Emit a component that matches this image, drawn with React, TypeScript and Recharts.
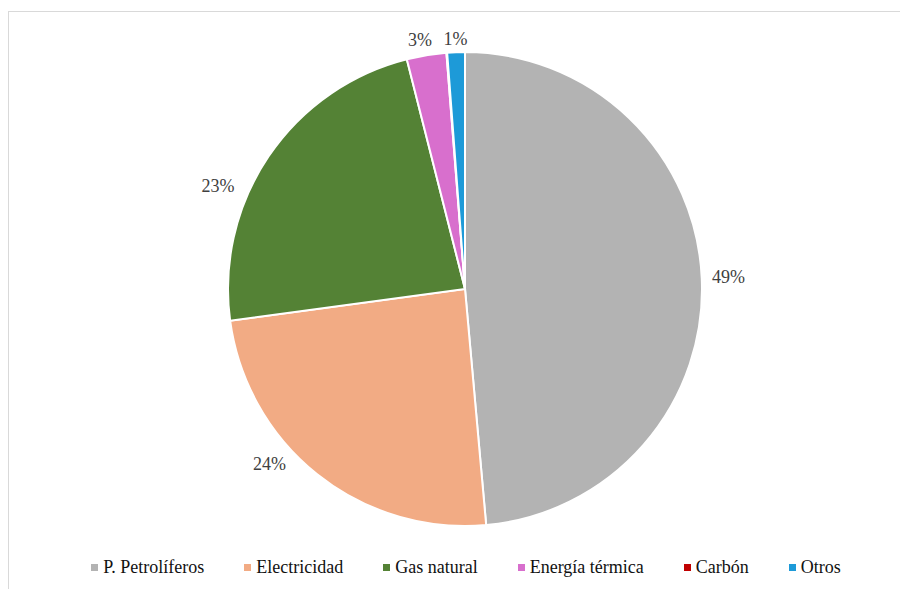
import { PieChart, Pie, Cell, Legend } from "recharts";

const categories = [
  "P. Petrolíferos",
  "Electricidad",
  "Gas natural",
  "Energía térmica",
  "Carbón",
  "Otros",
];
const shares = [48.6, 24.3, 23.2, 2.7, 0.05, 1.2];
const COLORS = ["#b3b3b3", "#f2ab84", "#548235", "#d86fcd", "#c00000", "#1d9ad8"];

const data = categories.map((name, i) => ({ name, value: shares[i] }));

const FONT = "'Liberation Serif', 'Times New Roman', serif";
const RAD = Math.PI / 180;

// label nudges (best-fit placement in the original)
const LABEL_NUDGE: Record<string, [number, number]> = {
  Electricidad: [-33, -29],
  "Gas natural": [-29, 44],
  "Energía térmica": [-4, 0],
};

const renderLabel = (props: any) => {
  const { cx, cy, midAngle, outerRadius, percent, name } = props;
  const pct = Math.round(percent * 100);
  if (pct < 1) return null;
  const text = `${pct}%`;
  const halfW = text.length * 6 + 0.5;
  const halfH = 5;
  const c = Math.cos(-midAngle * RAD);
  const s = Math.sin(-midAngle * RAD);
  const r = outerRadius + 8 + halfW * Math.abs(c) + halfH * Math.abs(s);
  const [nx, ny] = LABEL_NUDGE[name] || [0, 0];
  return (
    <text
      x={cx + r * c + nx}
      y={cy + r * s + ny}
      textAnchor="middle"
      dominantBaseline="central"
      fill="#404040"
      fontSize={18}
      style={{ fontFamily: FONT }}
    >
      {text}
    </text>
  );
};

const renderLegend = () => (
  <div
    style={{
      display: "flex",
      justifyContent: "center",
      alignItems: "center",
      fontFamily: FONT,
      fontSize: 18,
      color: "#111",
      paddingLeft: 14,
    }}
  >
    {categories.map((name, i) => (
      <div
        key={name}
        style={{ display: "flex", alignItems: "center", marginRight: i < categories.length - 1 ? 40 : 0 }}
      >
        <span
          style={{ width: 7, height: 7, background: COLORS[i], display: "inline-block", marginRight: 5 }}
        />
        <span>{name}</span>
      </div>
    ))}
  </div>
);

export default function App() {
  return (
    <div
      style={{
        marginTop: 3,
        width: 900,
        height: 578,
        borderTop: "1px solid #d9d9d9",
        borderLeft: "1px solid #d9d9d9",
        background: "#fff",
        fontFamily: FONT,
      }}
    >
      <PieChart
        width={900}
        height={578}
        margin={{ top: 0, right: 0, bottom: 0, left: 0 }}
        style={{ fontFamily: FONT }}
      >
        <Pie
          data={data}
          dataKey="value"
          cx={456}
          cy={277}
          outerRadius={237}
          startAngle={90}
          endAngle={-270}
          stroke="#ffffff"
          strokeWidth={2}
          label={renderLabel}
          labelLine={false}
          isAnimationActive={false}
        >
          {data.map((entry, index) => (
            <Cell key={`cell-${index}`} fill={COLORS[index]} />
          ))}
        </Pie>
        <Legend
          verticalAlign="bottom"
          content={renderLegend}
          wrapperStyle={{ bottom: 12, left: 0, width: 900 }}
        />
      </PieChart>
    </div>
  );
}
